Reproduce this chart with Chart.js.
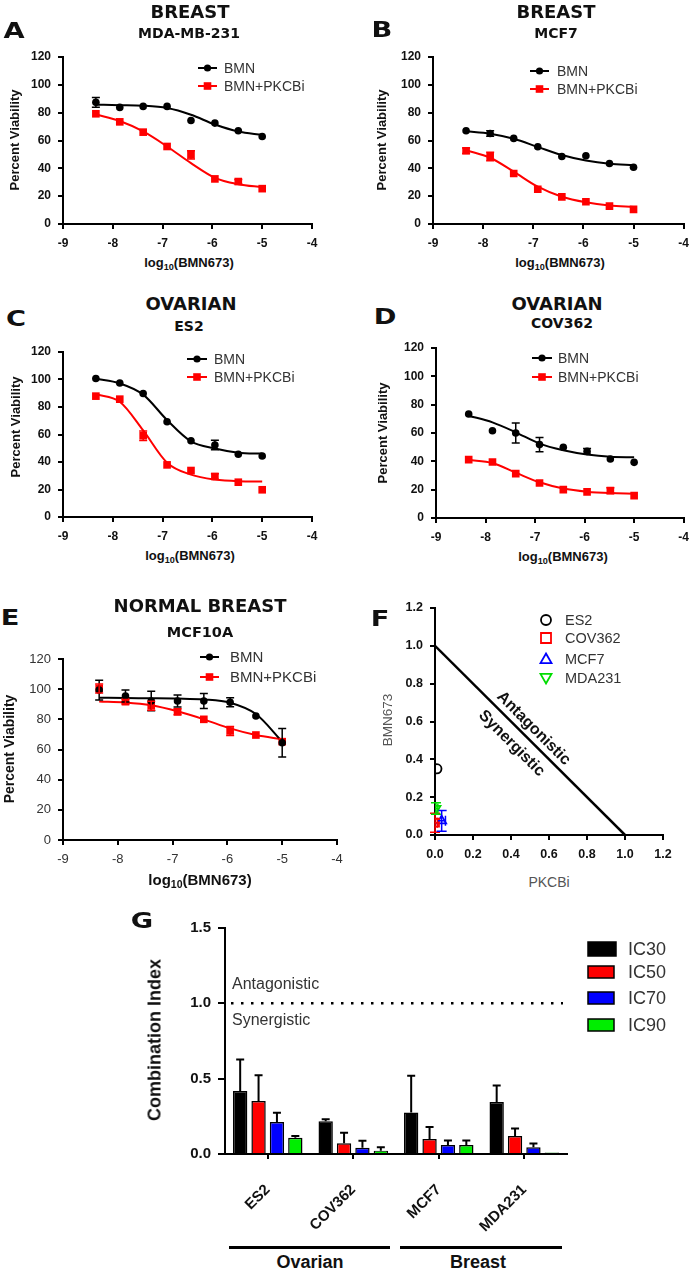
<!DOCTYPE html>
<html>
<head>
<meta charset="utf-8">
<script src="https://cdn.jsdelivr.net/npm/chart.js@4.4.0/dist/chart.umd.min.js"></script>
<style>
  body { margin: 0; width: 697px; height: 1272px; position: relative; overflow: hidden; background: #fff; }
  canvas { position: absolute; }
  .lbl { position: absolute; white-space: nowrap; line-height: 1; color: #111; }
  .bar { position: absolute; height: 3px; background: #000; }
</style>
</head>
<body>
<script>
// log10 doses, same for every viability panel
const doses = [-8.34, -7.86, -7.39, -6.91, -6.43, -5.95, -5.48, -5.0];

// A  MDA-MB-231
const aBmn = [87.4, 83.8, 84.5, 84.5, 74.4, 72.5, 67.0, 62.9];
const aBmnErr = [3.5, 0, 0, 0, 0, 0, 0, 0];
const aBmnFit = [85.7, 85.4, 85.0, 83.3, 78.5, 71.5, 66.5, 64.0];
const aCombo = [79.2, 73.4, 66.0, 55.7, 49.7, 32.4, 30.5, 25.4];
const aComboErr = [0, 0, 0, 0, 3, 0, 1.5, 0];
const aComboFit = [78.8, 74.0, 66.5, 55.7, 43.7, 33.2, 28.6, 26.4];

// B  MCF7
const bBmn = [67.0, 65.0, 61.5, 55.5, 48.5, 49.0, 43.5, 40.8];
const bBmnErr = [0, 2, 0, 0, 0, 0, 0, 0];
const bBmnFit = [66.6, 64.9, 61.2, 55.4, 49.6, 45.6, 43.3, 42.4];
const bCombo = [52.6, 48.5, 36.3, 25.0, 19.5, 16.0, 12.8, 10.5];
const bComboErr = [2, 3, 0, 0, 0, 0, 0, 0];
const bComboFit = [53.0, 47.6, 37.6, 26.8, 19.6, 15.6, 13.3, 12.2];

// C  ES2
const cBmn = [100.7, 97.5, 89.8, 69.3, 55.5, 52.4, 45.6, 44.4];
const cBmnErr = [0, 0, 0, 0, 0, 3.5, 0, 0];
const cBmnFit = [100.6, 97.2, 89.0, 70.5, 55.0, 49.8, 46.8, 46.1];
const cCombo = [87.9, 85.7, 59.1, 37.9, 33.8, 29.5, 25.3, 19.8];
const cComboErr = [0, 0, 3.5, 0, 0, 2, 0, 0];
const cComboFit = [89.3, 83.8, 63.0, 39.5, 30.8, 27.2, 26.0, 25.8];

// D  COV362
const dBmn = [73.4, 61.6, 60.0, 51.8, 49.9, 47.0, 41.6, 39.3];
const dBmnErr = [0, 0, 7, 5, 0, 2, 0, 0];
const dBmnFit = [72.2, 67.5, 60.5, 52.5, 47.8, 44.8, 43.2, 42.8];
const dCombo = [41.2, 39.5, 31.3, 24.7, 20.0, 18.4, 19.3, 15.8];
const dComboErr = [0, 0, 0, 0, 0, 0, 2, 0];
const dComboFit = [41.0, 38.8, 32.0, 25.2, 20.8, 18.6, 17.6, 17.2];

// E  MCF10A
const eBmn = [99.4, 95.5, 92.2, 92.2, 92.2, 91.3, 82.2, 64.5];
const eBmnErr = [6.5, 4, 6.5, 4, 5, 3, 0, 9.5];
const eBmnFit = [94.3, 94.1, 94.0, 93.8, 93.2, 91.0, 83.5, 65.2];
const eCombo = [100.5, 91.7, 89.0, 85.0, 80.0, 72.3, 69.6, 65.2];
const eComboErr = [3, 1.5, 3, 2, 0, 3, 0, 0];
const eComboFit = [91.9, 91.2, 89.3, 85.3, 80.0, 74.0, 69.6, 66.8];

// F  isobologram (PKCBi, BMN673)
const isoLines = ['ES2', 'COV362', 'MCF7', 'MDA231'];
const isoX = [0.01, 0.0, 0.035, 0.005];
const isoY = [0.35, 0.065, 0.075, 0.14];
const isoXErr = [0, 0.012, 0.02, 0.01];
const isoYErr = [0, 0.05, 0.055, 0.03];
const additiveLine = [{x: 0, y: 1}, {x: 1, y: 0}];

// G  combination index
const ciCats = ['ES2', 'COV362', 'MCF7', 'MDA231'];
const ic30 = [0.418, 0.218, 0.275, 0.345];
const ic30Err = [0.21, 0.012, 0.245, 0.11];
const ic50 = [0.352, 0.071, 0.10, 0.12];
const ic50Err = [0.17, 0.07, 0.08, 0.05];
const ic70 = [0.213, 0.042, 0.06, 0.045];
const ic70Err = [0.06, 0.046, 0.03, 0.025];
const ic90 = [0.108, 0.022, 0.06, 0.01];
const ic90Err = [0.011, 0.022, 0.03, 0];

const sans = '"Liberation Sans", Arial, sans-serif';
const red = '#ff0000';

Chart.defaults.animation = false;
Chart.defaults.responsive = false;
Chart.defaults.devicePixelRatio = 1;
Chart.defaults.font.family = sans;
Chart.defaults.plugins.legend.display = false;
Chart.defaults.plugins.tooltip.enabled = false;

// put a canvas so that the chart area lands exactly on box [l, t, r, b]
function place(box, m) {
  const c = document.createElement('canvas');
  const w = box[2] - box[0] + m[0] + m[2];
  const h = box[3] - box[1] + m[1] + m[3];
  c.width = w; c.height = h;
  c.style.width = w + 'px'; c.style.height = h + 'px';
  c.style.left = (box[0] - m[0]) + 'px';
  c.style.top = (box[1] - m[1]) + 'px';
  document.body.appendChild(c);
  return c;
}

function label(html, x, y, font, opt = {}) {
  const d = document.createElement('div');
  d.className = 'lbl';
  d.innerHTML = html;
  d.style.font = font;
  d.style.left = x + 'px';
  d.style.top = y + 'px';
  if (opt.color) d.style.color = opt.color;
  let tr = opt.left ? 'translate(0,-50%)' : 'translate(-50%,-50%)';
  if (opt.rot) tr += ` rotate(${opt.rot}deg)`;
  if (opt.sx) tr += ` scaleX(${opt.sx})`;
  d.style.transform = tr;
  document.body.appendChild(d);
}

function mark(ctx, style, x, y, r, fill, stroke, lw) {
  ctx.beginPath();
  if (style === 'circle') ctx.arc(x, y, r, 0, Math.PI * 2);
  else if (style === 'rect') ctx.rect(x - r, y - r, 2 * r, 2 * r);
  else if (style === 'tri') { ctx.moveTo(x, y - r); ctx.lineTo(x + r, y + r * 0.75); ctx.lineTo(x - r, y + r * 0.75); ctx.closePath(); }
  else if (style === 'itri') { ctx.moveTo(x, y + r); ctx.lineTo(x + r, y - r * 0.75); ctx.lineTo(x - r, y - r * 0.75); ctx.closePath(); }
  if (fill) { ctx.fillStyle = fill; ctx.fill(); }
  if (stroke) { ctx.strokeStyle = stroke; ctx.lineWidth = lw; ctx.stroke(); }
}

// error bars read from dataset.errs (and xerrs), drawn through the scales
const errorBars = {
  id: 'errorBars',
  afterDatasetsDraw(chart) {
    const ctx = chart.ctx;
    const xs = chart.scales.x, ys = chart.scales.y;
    chart.data.datasets.forEach((ds, i) => {
      if (!ds.errs) return;
      const meta = chart.getDatasetMeta(i);
      const cap = ds.cap || 4;
      ctx.save();
      ctx.strokeStyle = ds.errColor || ds.borderColor || '#000';
      ctx.lineWidth = ds.errWidth || 1.5;
      meta.data.forEach((el, j) => {
        const raw = ds.data[j];
        const yv = typeof raw === 'object' ? raw.y : raw;
        const e = ds.errs[j];
        if (e) {
          const top = ys.getPixelForValue(yv + e);
          const bot = ds.upOnly ? el.y : ys.getPixelForValue(Math.max(yv - e, ys.min));
          ctx.beginPath();
          ctx.moveTo(el.x, top); ctx.lineTo(el.x, bot);
          ctx.moveTo(el.x - cap, top); ctx.lineTo(el.x + cap, top);
          if (!ds.upOnly) { ctx.moveTo(el.x - cap, bot); ctx.lineTo(el.x + cap, bot); }
          ctx.stroke();
        }
        if (ds.xerrs && ds.xerrs[j]) {
          const xe = ds.xerrs[j];
          const lft = xs.getPixelForValue(Math.max(raw.x - xe, xs.min));
          const rgt = xs.getPixelForValue(raw.x + xe);
          ctx.beginPath();
          ctx.moveTo(lft, el.y); ctx.lineTo(rgt, el.y);
          ctx.moveTo(rgt, el.y - cap); ctx.lineTo(rgt, el.y + cap);
          ctx.stroke();
        }
      });
      ctx.restore();
    });
  }
};

// legend drawn on the canvas, items given in page coordinates
function keyPlugin(items, font) {
  return {
    id: 'key',
    afterDraw(chart) {
      const ctx = chart.ctx;
      const ox = chart.canvas.offsetLeft, oy = chart.canvas.offsetTop;
      ctx.save();
      ctx.font = font;
      ctx.textBaseline = 'middle';
      ctx.fillStyle = '#333';
      items.forEach(it => {
        const y = it.y - oy;
        if (it.line) {
          ctx.strokeStyle = it.color; ctx.lineWidth = 2;
          ctx.beginPath(); ctx.moveTo(it.x1 - ox, y); ctx.lineTo(it.x2 - ox, y); ctx.stroke();
          mark(ctx, it.style, (it.x1 + it.x2) / 2 - ox, y, it.r, it.color);
        } else if (it.swatch) {
          ctx.fillStyle = it.color;
          ctx.fillRect(it.x1 - ox, y - it.h / 2, it.x2 - it.x1, it.h);
          ctx.strokeStyle = '#000'; ctx.lineWidth = 1.5;
          ctx.strokeRect(it.x1 - ox, y - it.h / 2, it.x2 - it.x1, it.h);
        } else {
          mark(ctx, it.style, it.mx - ox, y, it.r, null, it.color, 1.8);
        }
        ctx.fillStyle = '#333';
        ctx.fillText(it.text, it.tx - ox, y + 1);
      });
      ctx.restore();
    }
  };
}

function linAxis(min, max, step, size, fit, font, color, fmt, tick) {
  const ax = {
    type: 'linear', min: min, max: max,
    ticks: { stepSize: step, font: font, color: color, padding: 7 },
    grid: { drawOnChartArea: false, drawTicks: true, tickLength: tick || 5, color: '#000', lineWidth: 2 },
    border: { display: true, color: '#000', width: 2 },
    afterFit: s => { s[size] = fit; }
  };
  if (fmt) ax.ticks.callback = fmt;
  return ax;
}

function curvePanel(box, m, bmn, bmnErr, bmnFit, combo, comboErr, comboFit, key, plain) {
  const font = plain ? { family: sans, size: 13 } : { family: sans, size: 12, weight: 'bold' };
  const col = plain ? '#333' : '#111';
  const pts = arr => doses.map((d, i) => ({ x: d, y: arr[i] }));
  new Chart(place(box, m), {
    type: 'scatter',
    data: {
      datasets: [
        { data: pts(bmn), errs: bmnErr, borderColor: '#000', pointStyle: 'circle', pointRadius: 3.8,
          pointBackgroundColor: '#000', pointBorderWidth: 0 },
        { data: pts(combo), errs: comboErr, borderColor: red, pointStyle: 'rect', pointRadius: 5.4,
          pointBackgroundColor: red, pointBorderWidth: 0 },
        { data: pts(bmnFit), showLine: true, pointRadius: 0, borderColor: '#000', borderWidth: 2,
          cubicInterpolationMode: 'monotone' },
        { data: pts(comboFit), showLine: true, pointRadius: 0, borderColor: red, borderWidth: 2,
          cubicInterpolationMode: 'monotone' }
      ]
    },
    options: {
      layout: { padding: { left: 0, top: m[1], right: m[2], bottom: 0 } },
      scales: {
        x: linAxis(-9, -4, 1, 'height', m[3], font, col),
        y: linAxis(0, 120, 20, 'width', m[0], font, col)
      }
    },
    plugins: [errorBars, keyPlugin([
      { line: true, x1: key[0], x2: key[1], y: key[3], color: '#000', style: 'circle', r: 3.6, text: 'BMN', tx: key[2] },
      { line: true, x1: key[0], x2: key[1], y: key[4], color: red, style: 'rect', r: 3.8, text: 'BMN+PKCBi', tx: key[2] }
    ], (plain ? 15 : 14) + 'px ' + sans)]
  });
}

curvePanel([63, 57, 312, 224], [50, 15, 25, 30], aBmn, aBmnErr, aBmnFit, aCombo, aComboErr, aComboFit, [198, 217, 224, 68, 86]);
curvePanel([433, 57, 684, 224], [50, 15, 12, 30], bBmn, bBmnErr, bBmnFit, bCombo, bComboErr, bComboFit, [530, 549, 557, 71, 89]);
curvePanel([63, 352, 312, 517], [50, 15, 25, 30], cBmn, cBmnErr, cBmnFit, cCombo, cComboErr, cComboFit, [187, 207, 214, 359, 377]);
curvePanel([436, 348, 688, 518], [50, 15, 8, 30], dBmn, dBmnErr, dBmnFit, dCombo, dComboErr, dComboFit, [532, 552, 558, 358, 377]);
curvePanel([63, 659, 337, 840], [50, 15, 20, 30], eBmn, eBmnErr, eBmnFit, eCombo, eComboErr, eComboFit, [200, 219, 230, 657, 677], true);

// F isobologram
const isoStyle = [
  { ps: 'circle', r: 4.6, col: '#000', rot: 0 },
  { ps: 'rect', r: 5.6, col: red, rot: 0 },
  { ps: 'triangle', r: 5.2, col: '#0000ff', rot: 0 },
  { ps: 'triangle', r: 5.2, col: '#00dd00', rot: 180 }
];
const fFont = { family: sans, size: 12.5, weight: 'bold' };
const fFmt = v => v.toFixed(1);
new Chart(place([435, 608, 663, 835], [50, 15, 25, 30]), {
  type: 'scatter',
  data: {
    datasets: isoLines.map((n, i) => ({
      data: [{ x: isoX[i], y: isoY[i] }], errs: [isoYErr[i]], xerrs: [isoXErr[i]], cap: 5,
      borderColor: isoStyle[i].col, pointStyle: isoStyle[i].ps, pointRadius: isoStyle[i].r,
      pointRotation: isoStyle[i].rot, pointBackgroundColor: 'rgba(0,0,0,0)',
      pointBorderColor: isoStyle[i].col, pointBorderWidth: 1.8
    })).concat([{ data: additiveLine, showLine: true, pointRadius: 0, borderColor: '#000', borderWidth: 2.5 }])
  },
  options: {
    layout: { padding: { left: 0, top: 15, right: 25, bottom: 0 } },
    scales: {
      x: linAxis(0, 1.2, 0.2, 'height', 30, fFont, '#111', fFmt),
      y: linAxis(0, 1.2, 0.2, 'width', 50, fFont, '#111', fFmt)
    }
  },
  plugins: [errorBars, keyPlugin([
    { style: 'circle', mx: 546, r: 5, color: '#000', y: 620, text: 'ES2', tx: 565 },
    { style: 'rect', mx: 546, r: 5, color: red, y: 638, text: 'COV362', tx: 565 },
    { style: 'tri', mx: 546, r: 5.5, color: '#0000ff', y: 659, text: 'MCF7', tx: 565 },
    { style: 'itri', mx: 546, r: 5.5, color: '#00dd00', y: 678, text: 'MDA231', tx: 565 }
  ], '14.5px ' + sans)]
});

// G combination index bars
const dottedOne = {
  id: 'dottedOne',
  afterDraw(chart) {
    const ctx = chart.ctx, ys = chart.scales.y, a = chart.chartArea;
    const y = ys.getPixelForValue(1.0);
    ctx.save();
    ctx.strokeStyle = '#000'; ctx.lineWidth = 2.5;
    ctx.setLineDash([2.5, 7.5]);
    ctx.beginPath(); ctx.moveTo(a.left + 6, y); ctx.lineTo(a.right - 4, y); ctx.stroke();
    ctx.restore();
  }
};
const gSeries = [
  { label: 'IC30', data: ic30, errs: ic30Err, backgroundColor: '#000' },
  { label: 'IC50', data: ic50, errs: ic50Err, backgroundColor: red },
  { label: 'IC70', data: ic70, errs: ic70Err, backgroundColor: '#0000ff' },
  { label: 'IC90', data: ic90, errs: ic90Err, backgroundColor: '#00ee00' }
].map(d => Object.assign(d, {
  borderColor: '#000', borderWidth: 1.5, upOnly: true, errColor: '#000', errWidth: 2,
  categoryPercentage: 0.86, barPercentage: 0.78
}));
const gFont = { family: sans, size: 15, weight: 'bold' };
new Chart(place([225, 927, 567, 1154], [75, 15, 125, 81]), {
  type: 'bar',
  data: { labels: ciCats, datasets: gSeries },
  options: {
    layout: { padding: { left: 0, top: 15, right: 125, bottom: 0 } },
    scales: {
      x: {
        type: 'category', offset: true,
        ticks: { font: gFont, color: '#111', maxRotation: 45, minRotation: 45, autoSkip: false, padding: 22 },
        grid: { offset: false, drawOnChartArea: false, drawTicks: true, tickLength: 5, color: '#000', lineWidth: 2 },
        border: { display: true, color: '#000', width: 2 },
        afterFit: s => { s.height = 81; }
      },
      y: linAxis(0, 1.5, 0.5, 'width', 75, gFont, '#111', fFmt, 7)
    }
  },
  plugins: [errorBars, dottedOne, keyPlugin([
    { swatch: true, x1: 588, x2: 616, h: 14, y: 949, color: '#000', text: 'IC30', tx: 628 },
    { swatch: true, x1: 588, x2: 614, h: 12, y: 972, color: red, text: 'IC50', tx: 628 },
    { swatch: true, x1: 588, x2: 614, h: 12, y: 998, color: '#0000ff', text: 'IC70', tx: 628 },
    { swatch: true, x1: 588, x2: 614, h: 12, y: 1025, color: '#00ee00', text: 'IC90', tx: 628 }
  ], '18px ' + sans)]
});

// text: panel letters, titles, axis titles
const letterFont = 'bold 21px "DejaVu Sans", sans-serif';
[['A', 14, 31], ['B', 382, 30], ['C', 16, 319], ['D', 385, 317], ['E', 10, 618], ['F', 380, 619], ['G', 142, 921]]
  .forEach(l => label(l[0], l[1], l[2], letterFont, { sx: 1.3 }));

const t1 = 'bold 18px "DejaVu Sans", sans-serif';
const t2 = 'bold 14px "DejaVu Sans", sans-serif';
label('BREAST', 190, 11, t1); label('MDA-MB-231', 189, 33, t2);
label('BREAST', 556, 11, t1); label('MCF7', 556, 33, t2);
label('OVARIAN', 191, 303, t1); label('ES2', 189, 326, t2);
label('OVARIAN', 557, 303, t1); label('COV362', 562, 323, t2);
label('NORMAL BREAST', 200, 605, t1); label('MCF10A', 200, 632, 'bold 14.5px "DejaVu Sans", sans-serif');

const yt = 'bold 13px ' + sans;
label('Percent Viability', 14, 140, yt, { rot: -90 });
label('Percent Viability', 381, 140, yt, { rot: -90 });
label('Percent Viability', 15, 427, yt, { rot: -90 });
label('Percent Viability', 382, 433, yt, { rot: -90 });
label('Percent Viability', 9, 749, 'bold 14px ' + sans, { rot: -90 });

const logTxt = 'log<sub style="font-size:70%;vertical-align:-3px">10</sub>(BMN673)';
label(logTxt, 189, 263, yt);
label(logTxt, 560, 263, yt);
label(logTxt, 190, 556, yt);
label(logTxt, 563, 557, yt);
label(logTxt, 200, 880, 'bold 15px ' + sans);

label('BMN673', 387, 720, '13.5px ' + sans, { rot: -90, color: '#555' });
label('PKCBi', 549, 882, '14px ' + sans, { color: '#555' });
label('Antagonistic', 534, 728, 'bold 16px ' + sans, { rot: 45 });
label('Synergistic', 512, 743, 'bold 16px ' + sans, { rot: 45 });

label('Combination Index', 155, 1040, 'bold 18px ' + sans, { rot: -90 });
label('Antagonistic', 232, 984, '16px ' + sans, { left: true, color: '#333' });
label('Synergistic', 232, 1020, '16px ' + sans, { left: true, color: '#333' });

[[229, 390], [400, 562]].forEach(b => {
  const d = document.createElement('div');
  d.className = 'bar';
  d.style.left = b[0] + 'px'; d.style.width = (b[1] - b[0]) + 'px'; d.style.top = '1246px';
  document.body.appendChild(d);
});
label('Ovarian', 310, 1262, 'bold 18px ' + sans);
label('Breast', 478, 1262, 'bold 18px ' + sans);
</script>
</body>
</html>
